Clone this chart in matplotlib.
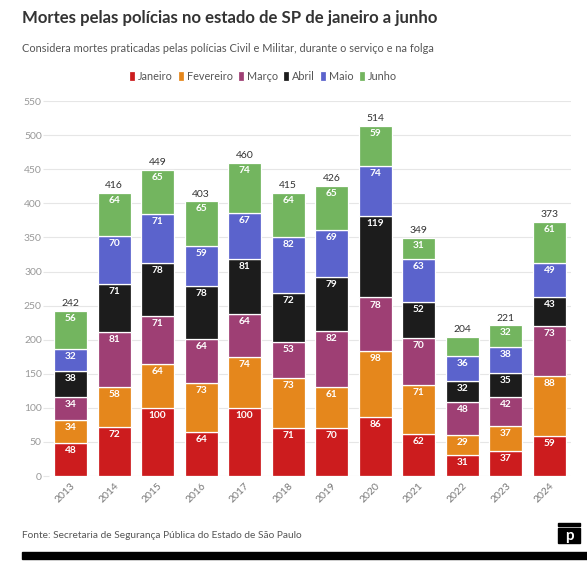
import numpy as np
import matplotlib.pyplot as plt
from matplotlib.patches import Rectangle

plt.rcParams['font.family'] = ['Lato', 'DejaVu Sans']

# Dados: mortes por mês (jan-jun), 2013-2024
anos = ['2013', '2014', '2015', '2016', '2017', '2018',
        '2019', '2020', '2021', '2022', '2023', '2024']
janeiro = [48, 72, 100, 64, 100, 71, 70, 86, 62, 31, 37, 59]
fevereiro = [34, 58, 64, 73, 74, 73, 61, 98, 71, 29, 37, 88]
marco = [34, 81, 71, 64, 64, 53, 82, 78, 70, 48, 42, 73]
abril = [38, 71, 78, 78, 81, 72, 79, 119, 52, 32, 35, 43]
maio = [32, 70, 71, 59, 67, 82, 69, 74, 63, 36, 38, 49]
junho = [56, 64, 65, 65, 74, 64, 65, 59, 31, 28, 32, 61]

meses = ['Janeiro', 'Fevereiro', 'Março', 'Abril', 'Maio', 'Junho']
series = [janeiro, fevereiro, marco, abril, maio, junho]
cores = ['#cc1c1e', '#e5871c', '#9e3f74', '#1c1c1c', '#5b63cc', '#73b55f']

fig = plt.figure(figsize=(5.87, 5.67), dpi=100)
W, H = 587, 567
ax = fig.add_axes([48.75 / W, 1 - 476 / H, (571.25 - 48.75) / W, (476 - 101.2) / H])

x = np.arange(len(anos))
base = np.zeros(len(anos))
for nome, vals, cor in zip(meses, series, cores):
    vals = np.array(vals)
    ax.bar(x, vals, bottom=base, width=0.76, color=cor, edgecolor='white',
           linewidth=0.9, label=nome, zorder=2)
    for xi, b, v in zip(x, base, vals):
        if v >= 29:
            ax.text(xi, b + v - 4.5, str(v), ha='center', va='top', color='white',
                    fontsize=7.3, fontweight='bold', zorder=3)
    base += vals

for xi, t in zip(x, base):
    ax.text(xi, t + 4, str(int(t)), ha='center', va='bottom', color='#333333',
            fontsize=7.5, zorder=3)

ax.set_xlim(-0.5, len(anos) - 0.5)
ax.set_ylim(0, 550)
ax.set_yticks(np.arange(0, 551, 50))
ax.grid(axis='y', color='#e6e6e6', linewidth=0.8, zorder=0)
ax.set_axisbelow(True)
for s in ax.spines.values():
    s.set_visible(False)
ax.tick_params(axis='y', length=4, color='#e6e6e6', labelsize=7.5, labelcolor='#999999', pad=1)
ax.tick_params(axis='x', length=0, labelsize=7.5, labelcolor='#777777', pad=4)
ax.set_xticks(x)
ax.set_xticklabels(anos, rotation=45, ha='right', rotation_mode='anchor')

fig.text(22 / W, 1 - 18 / H, 'Mortes pelas polícias no estado de SP de janeiro a junho',
         fontsize=12.1, fontweight='bold', color='#333333', va='center')
fig.text(22 / W, 1 - 49 / H,
         'Considera mortes praticadas pelas polícias Civil e Militar, durante o serviço e na folga',
         fontsize=7.95, color='#555555', va='center')

leg = fig.legend(loc='center', bbox_to_anchor=(263 / W, 1 - 76 / H), ncol=6, frameon=False,
                 fontsize=7.8, handlelength=0.55, handleheight=1.1, handletextpad=0.25,
                 columnspacing=0.5, labelcolor='#555555', borderpad=0, borderaxespad=0)

fig.text(22 / W, 1 - 536 / H, 'Fonte: Secretaria de Segurança Pública do Estado de São Paulo',
         fontsize=7.3, color='#555555', va='center')

# barra preta inferior e logo
fig.patches.append(Rectangle((22 / W, 1 - 559 / H), (W - 22) / W, 7 / H,
                             transform=fig.transFigure, color='black'))
fig.patches.append(Rectangle((558 / W, 1 - 543 / H), 22 / W, 15 / H,
                             transform=fig.transFigure, color='black'))
fig.patches.append(Rectangle((558 / W, 1 - 526 / H), 22 / W, 3 / H,
                             transform=fig.transFigure, color='black'))
fig.text(569 / W, 1 - 536 / H, 'p', fontsize=11, fontweight='bold', color='white',
         ha='center', va='center')

fig.savefig('out.png', dpi=100)
